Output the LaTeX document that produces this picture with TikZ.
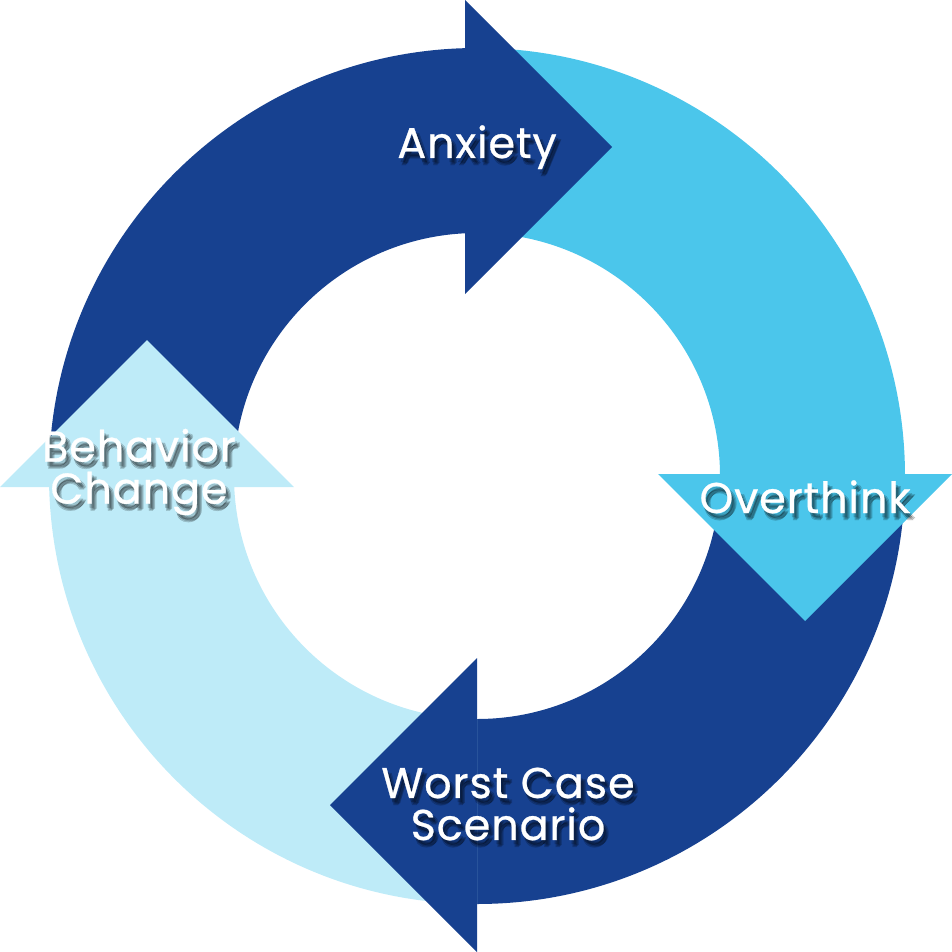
\documentclass[tikz,border=0pt]{standalone}
\usepackage{fontspec}
\newfontfamily\lblfont{Poppins}[FakeBold=0.6, LetterSpace=2]
\definecolor{darkblue}{HTML}{174190}
\definecolor{skyblue}{HTML}{4BC6EB}
\definecolor{paleblue}{HTML}{BEEBF8}
\tikzset{
  lbl/.style={font=\lblfont\fontsize{43}{42}\selectfont, text=white, inner sep=0pt, align=center},
  shd/.style={lbl, text=black, text opacity=0.16},
}
\newcommand\shadowlabel[4]{% #1 anchor, #2 position, #3 name, #4 text
  \foreach \dx/\dy in {2/4,4/6,3/7,5/5} {
    \node[shd, anchor=#1, shift={(\dx,\dy)}] at (#2) {#4};
  }
  \node[lbl, anchor=#1] (#3) at (#2) {#4};
}
\begin{document}
\begin{tikzpicture}[x=1pt,y=-1pt]
\useasboundingbox (0,0) rectangle (952,952);
\coordinate (C) at (477,476);
% ring segments
\fill[darkblue] ([shift={(C)}]180:428) arc[start angle=180, end angle=270, radius=428]
  -- ([shift={(C)}]270:243) arc[start angle=270, end angle=180, radius=243] -- cycle;
\fill[skyblue] ([shift={(C)}]270:428) arc[start angle=270, end angle=360, radius=428]
  -- ([shift={(C)}]0:243) arc[start angle=360, end angle=270, radius=243] -- cycle;
\fill[darkblue] ([shift={(C)}]0:428) arc[start angle=0, end angle=90, radius=428]
  -- ([shift={(C)}]90:243) arc[start angle=90, end angle=0, radius=243] -- cycle;
\fill[paleblue] ([shift={(C)}]90:428) arc[start angle=90, end angle=180, radius=428]
  -- ([shift={(C)}]180:243) arc[start angle=180, end angle=90, radius=243] -- cycle;
% arrow heads
\fill[darkblue] (465,0) -- (612,147) -- (465,294) -- cycle;
\fill[skyblue] (658,474) -- (952,474) -- (805,621) -- cycle;
\fill[darkblue] (477,658) -- (477,952) -- (330,805) -- cycle;
\fill[paleblue] (0,487) -- (147,340) -- (294,487) -- cycle;
% labels
\shadowlabel{base}{477,158}{anxiety}{Anxiety}
\shadowlabel{base}{805,513}{overthink}{Overthink}
\shadowlabel{center}{508,804}{worst}{Worst Case\\Scenario}
\shadowlabel{center}{139,472}{behavior}{Behavior\\Change}
\end{tikzpicture}
\end{document}
